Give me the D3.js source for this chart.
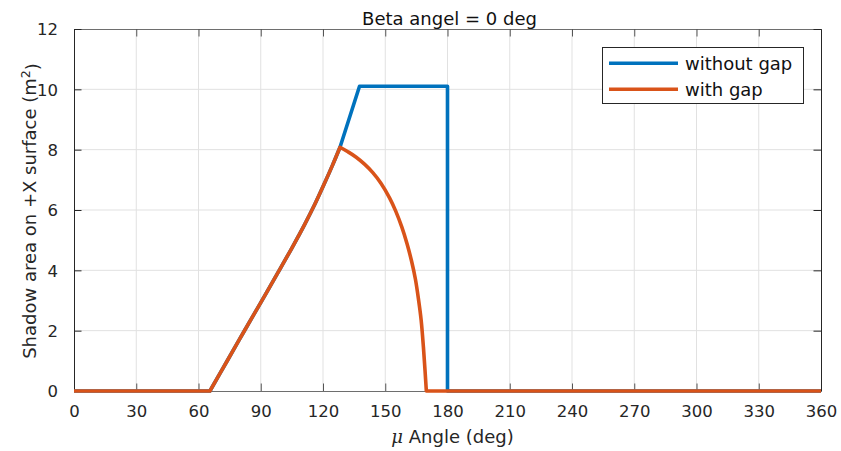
<!DOCTYPE html>
<html>
<head>
<meta charset="utf-8">
<script src="https://cdn.jsdelivr.net/npm/d3@7"></script>
<style>
  html, body { margin: 0; padding: 0; background: #fff; }
  svg { display: block; font-family: "DejaVu Sans", "Liberation Sans", sans-serif; }
</style>
</head>
<body>
<svg id="chart" width="841" height="451"></svg>
<script>
// Shadow area on the +X surface versus mu angle, beta = 0 deg
const chartTitle = "Beta angel = 0 deg";
const seriesNames = ["without gap", "with gap"];
const seriesColors = ["#0072BD", "#D95319"];

const xTicks = [0, 30, 60, 90, 120, 150, 180, 210, 240, 270, 300, 330, 360];
const yTicks = [0, 2, 4, 6, 8, 10, 12];

// mu angle (deg) samples and shadow area (m^2); the shared rise from 65.5 to 128 deg
const muRise   = [65.5, 74, 82, 90, 98, 105, 111, 116, 120.5, 124.5, 128.2];
const areaRise = [0, 1.02, 1.98, 2.93, 3.89, 4.74, 5.5, 6.18, 6.85, 7.47, 8.08];

// without gap: rise, linear ramp to the plateau, plateau, drop at 180 deg
const muWithoutGap   = [0, 65.5, 128.2, 137.6, 180, 180, 360];
const areaWithoutGap = [0, 0, 8.08, 10.1, 10.1, 0, 0];

// with gap: fall-off after the peak
const muFall   = [128.2, 132, 136, 140, 144, 148, 152, 155, 158, 160.5, 162.7, 164.5, 166, 167.3, 168.4, 169.2, 169.8];
const areaFall = [8.08, 7.93, 7.75, 7.52, 7.24, 6.88, 6.41, 5.97, 5.43, 4.88, 4.3, 3.72, 3.05, 2.35, 1.45, 0.65, 0];
const muWithGapTail = [169.8, 360];
const areaWithGapTail = [0, 0];

const svg = d3.select("#chart");
const margin = { left: 74, top: 29, right: 20, bottom: 60 };
const W = 841, H = 451;
const x0 = margin.left, x1 = W - margin.right;   // 74 .. 821
const y0 = H - margin.bottom, y1 = margin.top;   // 391 .. 29

const x = d3.scaleLinear().domain([0, 360]).range([x0, x1]);
const y = d3.scaleLinear().domain([0, 12]).range([y0, y1]);

const textColor = "#262626";

// grid
const grid = svg.append("g");
grid.selectAll("line.gx").data(xTicks.slice(1, -1)).join("line")
  .attr("x1", d => x(d)).attr("x2", d => x(d))
  .attr("y1", y1).attr("y2", y0)
  .attr("stroke", "#e1e1e1").attr("stroke-width", 1);
grid.selectAll("line.gy").data(yTicks.slice(1, -1)).join("line")
  .attr("x1", x0).attr("x2", x1)
  .attr("y1", d => y(d)).attr("y2", d => y(d))
  .attr("stroke", "#e1e1e1").attr("stroke-width", 1);

// axes with inward ticks on all four sides
const tickLen = 7.5;
const axisBottom = svg.append("g").attr("transform", `translate(0,${y0})`)
  .call(d3.axisBottom(x).tickValues(xTicks).tickSizeInner(-tickLen).tickSizeOuter(0).tickPadding(14));
const axisTop = svg.append("g").attr("transform", `translate(0,${y1})`)
  .call(d3.axisTop(x).tickValues(xTicks).tickSizeInner(-tickLen).tickSizeOuter(0).tickFormat(""));
const axisLeft = svg.append("g").attr("transform", `translate(${x0},0)`)
  .call(d3.axisLeft(y).tickValues(yTicks).tickSizeInner(-tickLen).tickSizeOuter(0).tickPadding(16));
const axisRight = svg.append("g").attr("transform", `translate(${x1},0)`)
  .call(d3.axisRight(y).tickValues(yTicks).tickSizeInner(-tickLen).tickSizeOuter(0).tickFormat(""));

[axisBottom, axisTop].forEach(g => {
  g.select(".domain").attr("stroke", "#6e6e6e");
  g.selectAll(".tick line").attr("stroke", "#555");
});
[axisLeft, axisRight].forEach(g => {
  g.select(".domain").attr("stroke", "#262626");
  g.selectAll(".tick line").attr("stroke", "#262626");
});
[axisBottom, axisLeft].forEach(g => {
  g.selectAll(".tick text")
    .attr("fill", textColor)
    .style("font-family", "'DejaVu Sans', sans-serif")
    .style("font-size", "16.5px");
});
axisLeft.selectAll(".tick text").attr("dy", "0.36em");

// series paths: straight pieces plus smooth pieces, joined into one path
const straight = d3.line().x(d => x(d[0])).y(d => y(d[1]));
const smooth = d3.line().x(d => x(d[0])).y(d => y(d[1])).curve(d3.curveCatmullRom.alpha(0.5));
const zip = (a, b) => a.map((v, i) => [v, b[i]]);

function joinPieces(pieces) {
  // each later piece continues from the previous end point
  return pieces.map((p, i) => {
    const d = (p.smooth ? smooth : straight)(p.pts);
    return i === 0 ? d : d.replace(/^M[^LC]*/, "");
  }).join("");
}

const without = zip(muWithoutGap, areaWithoutGap);
const pathWithout = joinPieces([
  { pts: without.slice(0, 2) },
  { pts: zip(muRise, areaRise), smooth: true },
  { pts: without.slice(2) }
]);
const pathWith = joinPieces([
  { pts: without.slice(0, 2) },
  { pts: zip(muRise, areaRise), smooth: true },
  { pts: zip(muFall, areaFall), smooth: true },
  { pts: zip(muWithGapTail, areaWithGapTail) }
]);

const plot = svg.append("g");
plot.append("path")
  .attr("d", pathWithout).attr("fill", "none")
  .attr("stroke", seriesColors[0]).attr("stroke-width", 3.6)
  .attr("stroke-linejoin", "round");
plot.append("path")
  .attr("d", pathWith).attr("fill", "none")
  .attr("stroke", seriesColors[1]).attr("stroke-width", 3.6)
  .attr("stroke-linejoin", "round");

// title
svg.append("text")
  .attr("x", (x0 + x1) / 2 + 2).attr("y", 25)
  .attr("text-anchor", "middle")
  .attr("fill", "#111")
  .style("font-size", "18px")
  .text(chartTitle);

// x label
const xl = svg.append("text")
  .attr("x", (x0 + x1) / 2 + 5).attr("y", 443)
  .attr("text-anchor", "middle")
  .attr("fill", textColor)
  .style("font-size", "18px");
xl.append("tspan").style("font-style", "italic").style("font-family", "'DejaVu Serif', serif").text("\u03BC");
xl.append("tspan").text(" Angle (deg)");

// y label
const yl = svg.append("text")
  .attr("transform", `translate(36,${(y0 + y1) / 2 + 1}) rotate(-90)`)
  .attr("text-anchor", "middle")
  .attr("fill", textColor)
  .style("font-size", "18px");
yl.append("tspan").text("Shadow area on +X surface (m");
yl.append("tspan").attr("dy", "-0.5em").style("font-size", "12.5px").text("2");
yl.append("tspan").attr("dy", "0.5em").text(")");

// legend
const lg = svg.append("g");
lg.append("rect")
  .attr("x", 602.5).attr("y", 47.5).attr("width", 201).attr("height", 56)
  .attr("fill", "#fff").attr("stroke", "#262626").attr("stroke-width", 1);
const legendRows = [63.3, 89.3];
seriesNames.forEach((name, i) => {
  lg.append("line")
    .attr("x1", 609).attr("x2", 678)
    .attr("y1", legendRows[i]).attr("y2", legendRows[i])
    .attr("stroke", seriesColors[i]).attr("stroke-width", 3.6);
  lg.append("text")
    .attr("x", 685).attr("y", legendRows[i] + 6.5)
    .attr("fill", "#111")
    .style("font-size", "18px")
    .text(name);
});
</script>
</body>
</html>
